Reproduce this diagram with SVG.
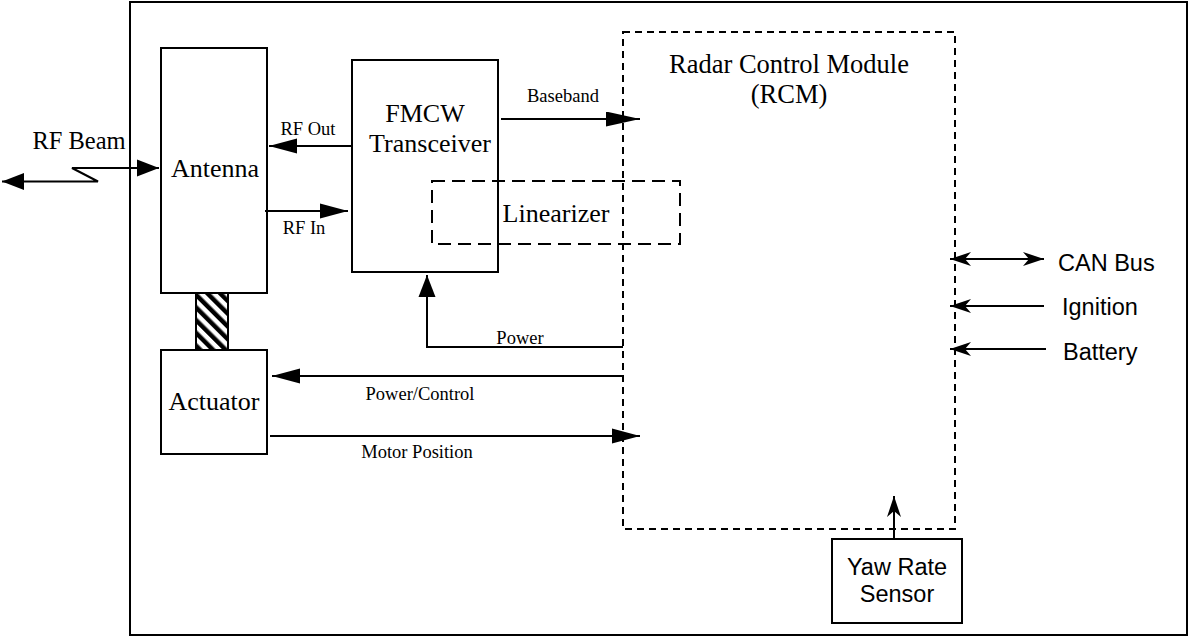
<svg xmlns="http://www.w3.org/2000/svg" width="1189" height="637" viewBox="0 0 1189 637">
<style>
.box{fill:none;stroke:#000;stroke-width:2}
.dash1{fill:none;stroke:#000;stroke-width:2;stroke-dasharray:7 5}
.dash2{fill:none;stroke:#000;stroke-width:2;stroke-dasharray:13 7}
.ln{fill:none;stroke:#000;stroke-width:2}
.tb{font-family:"Liberation Serif","Times New Roman",serif;font-size:26px;fill:#000;text-anchor:middle}
.ts{font-family:"Liberation Serif","Times New Roman",serif;font-size:18.5px;fill:#000;text-anchor:middle}
.ta{font-family:"Liberation Sans",Arial,sans-serif;font-size:23.5px;fill:#000}
</style>
<defs>
<marker id="ah" markerUnits="userSpaceOnUse" markerWidth="30" markerHeight="17" refX="28" refY="8" orient="auto-start-reverse" viewBox="0 0 30 17">
<path d="M0,0.5 L28,8 L0,15.5 Z" fill="#000"/>
</marker>
<marker id="ahl" markerUnits="userSpaceOnUse" markerWidth="36" markerHeight="16" refX="34" refY="7.5" orient="auto-start-reverse" viewBox="0 0 36 16">
<path d="M0,0 L34,7.5 L0,15 Z" fill="#000"/>
</marker>
<marker id="ahs" markerUnits="userSpaceOnUse" markerWidth="24" markerHeight="18" refX="22" refY="9" orient="auto-start-reverse" viewBox="0 0 24 18">
<path d="M0,0.5 L22,9 L0,17.5 Z" fill="#000"/>
</marker>
<marker id="ab" markerUnits="userSpaceOnUse" markerWidth="24" markerHeight="16" refX="21" refY="7" orient="auto-start-reverse" viewBox="0 0 24 16">
<path d="M0,0 L21,7 L0,14 L6,7 Z" fill="#000"/>
</marker>
<pattern id="hatch" patternUnits="userSpaceOnUse" width="9" height="9" patternTransform="rotate(-45)">
<rect x="0" y="0" width="9" height="9" fill="#fff"/>
<rect x="0" y="0" width="4.5" height="9" fill="#000"/>
</pattern>
</defs>
<rect width="1189" height="637" fill="#fff"/>
<g id="outer"><rect class="box" x="130" y="2" width="1057" height="633"/></g>
<g id="antenna"><rect class="box" x="161" y="48" width="106" height="245"/><text class="tb" x="215" y="177">Antenna</text></g>
<g id="coupling"><rect x="196" y="293" width="32" height="57" fill="url(#hatch)" stroke="#000" stroke-width="2"/></g>
<g id="actuator"><rect class="box" x="161" y="350" width="106" height="104"/><text class="tb" x="214" y="410">Actuator</text></g>
<g id="fmcw"><rect class="box" x="352" y="60" width="146" height="212"/><text class="tb" x="425" y="122">FMCW</text><text class="tb" x="430" y="152">Transceiver</text></g>
<g id="linearizer"><rect class="dash2" x="432" y="181" width="248" height="63"/><text class="tb" x="556" y="222">Linearizer</text></g>
<g id="rcm"><rect class="dash1" x="623" y="32" width="332" height="497"/><text class="tb" x="789" y="73" style="font-size:26.5px">Radar Control Module</text><text class="tb" x="789" y="103" style="font-size:26.5px">(RCM)</text></g>
<g id="yaw"><rect class="box" x="832" y="539" width="130" height="84"/><text class="ta" x="897" y="575" text-anchor="middle">Yaw Rate</text><text class="ta" x="897" y="602" text-anchor="middle">Sensor</text></g>
<g id="ext-labels">
<text class="ta" x="1058" y="271">CAN Bus</text>
<text class="ta" x="1062" y="315">Ignition</text>
<text class="ta" x="1063" y="360">Battery</text>
</g>
<g id="connectors">
<path class="ln" d="M159,168 L72,168 L98,181.5 L2,181.5" marker-start="url(#ahs)" marker-end="url(#ahs)"/>
<path class="ln" d="M352,146 L269,146" marker-end="url(#ah)"/>
<path class="ln" d="M265,211 L348,211" marker-end="url(#ah)"/>
<path class="ln" d="M501,119 L640,119" marker-end="url(#ahl)"/>
<path class="ln" d="M623,347 L427,347 L427,275" marker-end="url(#ahs)"/>
<path class="ln" d="M623,376 L272,376" marker-end="url(#ah)"/>
<path class="ln" d="M270,436 L640,436" marker-end="url(#ah)"/>
<path class="ln" d="M894,539 L894,496" marker-end="url(#ab)"/>
<path class="ln" d="M950,259 L1044,259" marker-start="url(#ab)" marker-end="url(#ab)"/>
<path class="ln" d="M1044,306 L950,306" marker-end="url(#ab)"/>
<path class="ln" d="M1046,349 L950,349" marker-end="url(#ab)"/>
</g>
<g id="conn-labels">
<text class="ta" x="79" y="149" style="font-family:'Liberation Serif','Times New Roman',serif;font-size:24.5px" text-anchor="middle">RF Beam</text>
<text class="ts" x="308" y="135">RF Out</text>
<text class="ts" x="304" y="234">RF In</text>
<text class="ts" x="563" y="102">Baseband</text>
<text class="ts" x="520" y="344">Power</text>
<text class="ts" x="420" y="400">Power/Control</text>
<text class="ts" x="417" y="458">Motor Position</text>
</g>
</svg>
